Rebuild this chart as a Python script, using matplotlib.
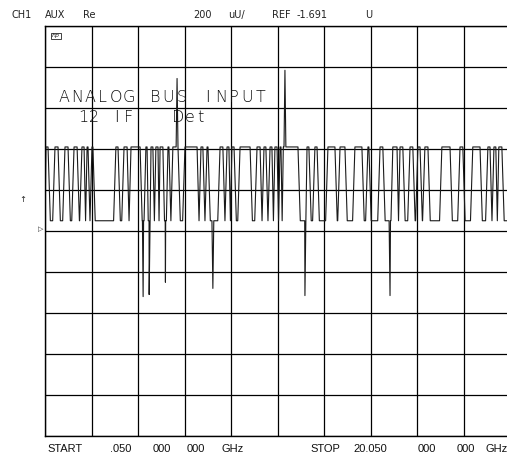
import numpy as np
import matplotlib.pyplot as plt

# sweep: .050 GHz to 20.050 GHz, 200 uU/div around REF -1.691 U
f_start = 0.05
f_stop = 20.05
div_uU = 200

# trace levels (uU relative to REF)
high = 410
low = 50

# high plateaus of the trace, GHz
pulse_start = [0.09, 0.48, 0.91, 1.30, 1.64, 1.86, 2.07, 3.10, 3.45, 3.75, 4.39, 4.61,
               4.82, 5.00, 5.34, 5.55, 6.07, 6.76, 7.02, 7.58, 7.88, 8.09, 8.44, 9.17,
               9.47, 9.73, 9.94, 10.16, 10.30, 11.32, 11.66, 12.22, 12.74, 13.38, 13.94,
               14.46, 15.01, 15.32, 15.75, 16.09, 16.39, 17.12, 17.90, 18.45, 19.10,
               19.36, 19.57]
pulse_end = [0.18, 0.61, 1.04, 1.43, 1.73, 1.90, 2.11, 3.19, 3.58, 4.14, 4.44, 4.69,
             4.91, 5.12, 5.38, 5.77, 6.59, 6.84, 7.06, 7.70, 7.96, 8.18, 8.87, 9.30,
             9.55, 9.81, 10.03, 10.20, 10.93, 11.40, 11.75, 12.52, 12.95, 13.68, 13.98,
             14.58, 15.19, 15.44, 15.87, 16.18, 16.52, 17.47, 18.02, 18.76, 19.19,
             19.44, 19.70]

# glitches
spike_f = [4.27, 4.53, 5.23, 7.27, 11.23, 14.89, 5.73, 10.37]
spike_v = [-320, -310, -250, -280, -315, -315, 744, 784]

ramp = 0.1
spike_w = 0.04

# build the trace polyline
pts = [(f_start, low)]
prev_b = None
for a, b in zip(pulse_start, pulse_end):
    if prev_b is None:
        if a - f_start >= ramp:
            pts.append((a - ramp, low))
    else:
        gap = a - prev_b
        if gap >= 2 * ramp:
            pts.append((prev_b + ramp, low))
            pts.append((a - ramp, low))
        else:
            pts.append(((a + prev_b) / 2, low))
    pts.append((a, high))
    pts.append((b, high))
    prev_b = b
pts.append((prev_b + ramp, low))
pts.append((f_stop, low))
for f, v in zip(spike_f, spike_v):
    base = high if v > high else low
    pts += [(f - spike_w, base), (f, v), (f + spike_w, base)]
pts.sort(key=lambda p: p[0])
tf = [p[0] for p in pts]
tv = [p[1] for p in pts]

fig = plt.figure(figsize=(5.07, 4.57), dpi=100)
ax = fig.add_axes([45 / 507, 1 - 436 / 457, 465 / 507, 410 / 457])
ax.plot(tf, tv, color='#1a1a1a', lw=0.8)
ax.set_xlim(f_start, f_stop)
ax.set_ylim(-5 * div_uU, 5 * div_uU)
ax.set_xticks(np.linspace(f_start, f_stop, 11))
ax.set_yticks(np.arange(-5, 6) * div_uU)
ax.grid(True, color='black', lw=0.9)
ax.tick_params(length=0, labelbottom=False, labelleft=False)
for s in ax.spines.values():
    s.set_color('black')
    s.set_linewidth(1)


def ftxt(x, y, s, **kw):
    fig.text(x / 507, 1 - y / 457, s, va='center', ha='left', **kw)


def ptxt(x, y, s, pitch, **kw):
    # plotter style: one character per fixed cell
    for i, c in enumerate(s):
        fig.text((x + pitch * (i + 0.5)) / 507, 1 - y / 457, c,
                 va='center', ha='center', **kw)


# header
hdr = dict(fontsize=7, family='DejaVu Sans', color='#222')
for x, s in [(11, 'CH1'), (45, 'AUX'), (83, 'Re'), (193, '200'), (228, 'uU/'),
             (272, 'REF'), (297, '-1.691'), (365, 'U')]:
    ftxt(x, 15, s, **hdr)

# footer
ftr = dict(fontsize=8, family='Liberation Sans', color='#111')
for x, s in [(47, 'START'), (110, '.050'), (153, '000'), (187, '000'), (222, 'GHz'),
             (310, 'STOP'), (353, '20.050'), (418, '000'), (457, '000'), (485, 'GHz')]:
    ftxt(x, 449, s, **ftr)

# annotation
ann = dict(fontsize=11.5, family='DejaVu Sans', color='#111', fontweight='light')
ptxt(57, 98, 'ANALOG BUS INPUT', 13.1, **ann)
for x, s in [(77, '12'), (111, 'IF'), (172, 'Det')]:
    ptxt(x, 118, s, 11.5, **ann)

# hp logo
ftxt(52, 36, 'hp', fontsize=4.5, style='italic', color='#222',
     bbox=dict(boxstyle='square,pad=0.15', fc='white', ec='#222', lw=0.6))

# markers on the left
ftxt(19, 200, '↑', fontsize=6, color='#222')
ftxt(38, 229, '▷', fontsize=5, color='#222')

fig.savefig('out.png', dpi=100)
